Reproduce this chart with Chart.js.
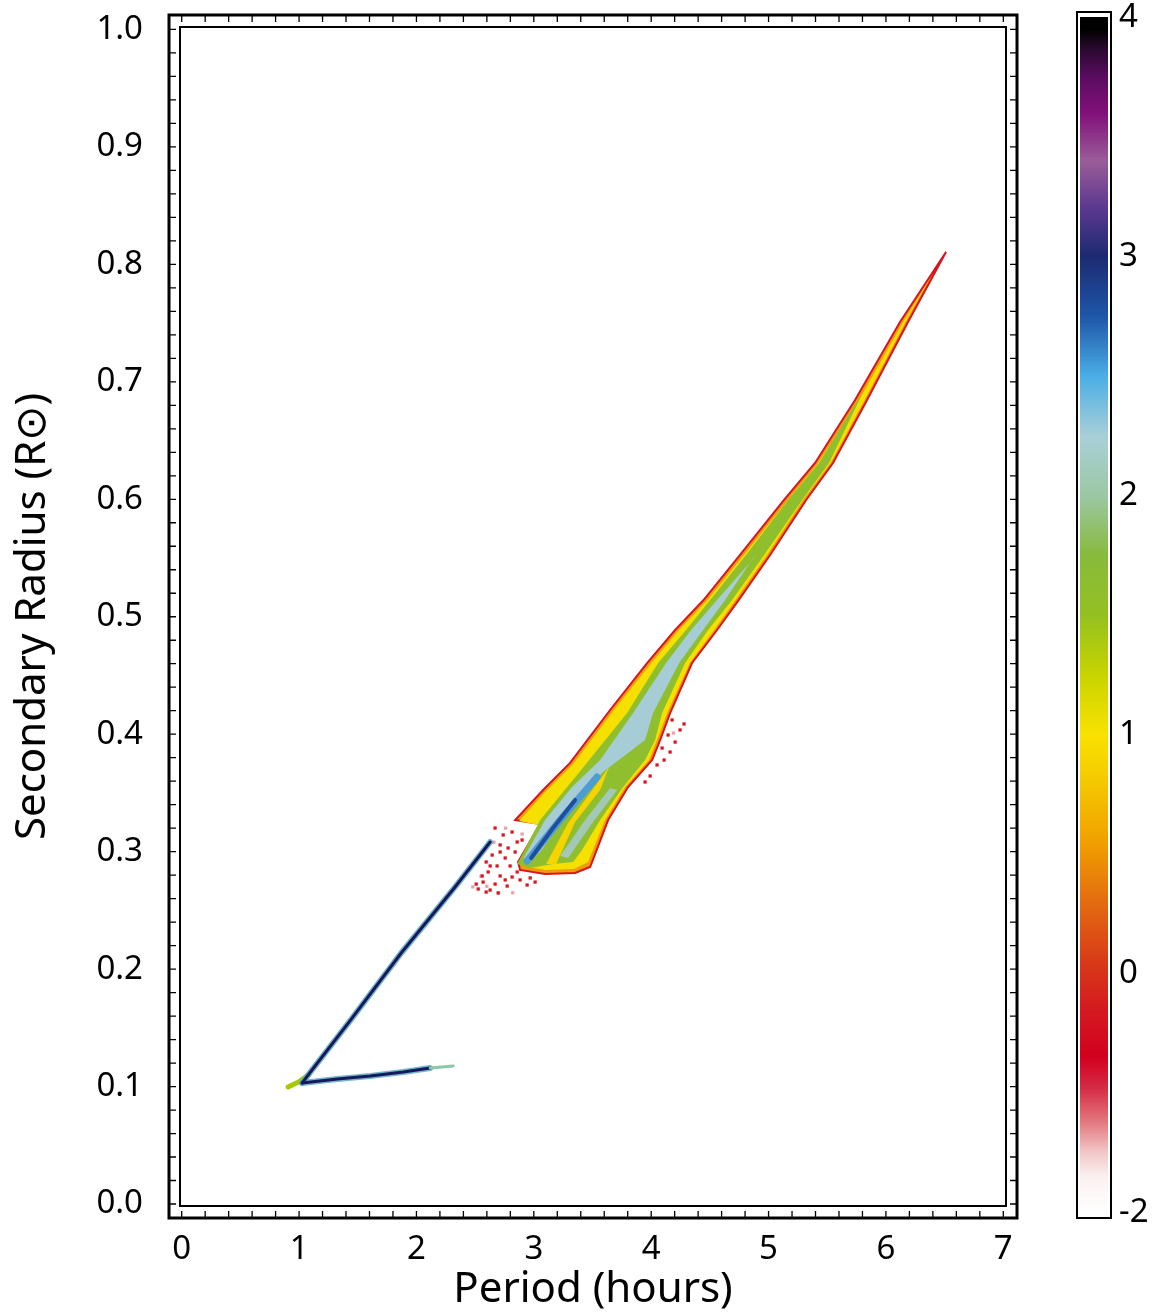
<!DOCTYPE html>
<html>
<head>
<meta charset="utf-8">
<script src="https://cdn.jsdelivr.net/npm/chart.js@4.4.1/dist/chart.umd.min.js"></script>
<style>
  body { margin: 0; background: #fff; }
  #wrap { position: relative; width: 1154px; height: 1315px; }
  #mainChart { position: absolute; left: 0; top: 0; }
  #barChart { position: absolute; left: 1040px; top: 0; }
</style>
</head>
<body>
<div id="wrap">
  <canvas id="mainChart" width="1154" height="1315"></canvas>
  <canvas id="barChart" width="114" height="1315"></canvas>
</div>
<script>
// axis ticks
const periodTicks = [0, 1, 2, 3, 4, 5, 6, 7];
const radiusTicks = [0, 0.1, 0.2, 0.3, 0.4, 0.5, 0.6, 0.7, 0.8, 0.9, 1.0];
const colourLevels = ['-2', '0', '1', '2', '3', '4'];

// density contours, [period (h), radius (Rsun)]
const envelope = [[6.512,0.8105],[6.188,0.7509],[5.839,0.6845],[5.549,0.6309],[5.320,0.5994],[5.013,0.5526],[4.745,0.5142],[4.561,0.4887],[4.348,0.4606],[4.161,0.4180],[4.076,0.3950],[4.008,0.3780],[3.803,0.3550],[3.633,0.3269],[3.480,0.2869],[3.352,0.2818],[3.096,0.2810],[2.883,0.2844],[2.866,0.2912],[3.054,0.3235],[2.841,0.3269],[3.079,0.3525],[3.309,0.3755],[3.650,0.4206],[3.965,0.4606],[4.204,0.4887],[4.446,0.5142],[4.757,0.5526],[5.132,0.5994],[5.396,0.6309],[5.737,0.6845],[6.120,0.7509],[6.512,0.8105]];
const yellowBand = [[6.376,0.7884],[6.167,0.7509],[5.818,0.6845],[5.528,0.6309],[5.294,0.5994],[4.987,0.5526],[4.719,0.5142],[4.536,0.4887],[4.329,0.4606],[4.136,0.4180],[4.050,0.3950],[3.982,0.3780],[3.778,0.3550],[3.607,0.3269],[3.463,0.2912],[3.343,0.2852],[3.096,0.2844],[2.909,0.2878],[2.900,0.2929],[3.079,0.3218],[2.875,0.3261],[3.105,0.3516],[3.335,0.3746],[3.676,0.4197],[3.995,0.4598],[4.229,0.4878],[4.472,0.5134],[4.783,0.5517],[5.158,0.5985],[5.417,0.6300],[5.766,0.6837],[6.141,0.7501]];
const greenBand = [[5.814,0.6930],[5.515,0.6309],[5.286,0.5994],[4.962,0.5526],[4.689,0.5142],[4.485,0.4887],[4.289,0.4606],[4.093,0.4180],[4.033,0.3950],[3.948,0.3780],[3.761,0.3550],[3.565,0.3269],[3.411,0.3014],[3.335,0.2912],[3.164,0.2895],[2.969,0.2861],[2.858,0.2895],[3.054,0.3269],[3.284,0.3550],[3.403,0.3695],[3.795,0.4180],[4.059,0.4606],[4.297,0.4887],[4.502,0.5142],[4.808,0.5526],[5.167,0.5994],[5.430,0.6309]];
const lobeGap = [[3.105,0.2895],[3.292,0.3244],[3.505,0.3533],[3.641,0.3721],[3.565,0.3525],[3.352,0.3252],[3.190,0.2895]];
const paleCore = [[4.902,0.5551],[4.630,0.5142],[4.442,0.4887],[4.238,0.4606],[4.016,0.4180],[3.948,0.3950],[3.590,0.3678],[3.463,0.3550],[3.250,0.3269],[3.054,0.2997],[2.926,0.2903],[2.917,0.2954],[3.096,0.3269],[3.326,0.3550],[3.565,0.3780],[3.846,0.4180],[4.127,0.4606],[4.340,0.4887],[4.561,0.5142],[4.860,0.5483]];
const lowerCore = [[3.224,0.2963],[3.437,0.3269],[3.650,0.3542],[3.710,0.3525],[3.505,0.3252],[3.292,0.2946]];
const blueRidge = [[2.943,0.2920],[3.224,0.3269],[3.539,0.3635]];
const darkRidge = [[2.977,0.2946],[3.164,0.3201],[3.352,0.3440]];
const redSpeckles = [[2.670,0.3201],[2.739,0.3142],[2.815,0.3167],[2.713,0.3057],[2.781,0.3031],[2.858,0.3082],[2.645,0.2971],[2.756,0.2946],[2.687,0.2878],[2.798,0.2878],[2.611,0.2827],[2.713,0.2793],[2.815,0.2784],[2.568,0.2741],[2.670,0.2724],[2.773,0.2707],[2.526,0.2682],[2.628,0.2673],[2.883,0.2759],[2.943,0.2716],[3.011,0.2741],[2.841,0.2997],[2.594,0.2912],[2.900,0.3099],[2.943,0.3014],[2.713,0.2997],[2.628,0.2878],[2.560,0.2793],[2.756,0.2759],[2.858,0.2827],[2.969,0.2776],[2.509,0.2724],[2.594,0.2656],[2.696,0.2648],[4.144,0.3993],[4.204,0.3933],[4.093,0.3882],[4.161,0.3848],[4.050,0.3738],[3.991,0.3644],[4.110,0.3780],[4.246,0.4036],[4.178,0.4121],[4.280,0.4087],[3.948,0.3593]];
const pinkSpeckles = [[2.55,0.2790],[2.60,0.2705],[2.70,0.2650],[2.90,0.3150],[2.76,0.3200],[2.66,0.3080],[4.19,0.4010],[2.48,0.2700],[2.82,0.2650]];

// period-bouncer branch
const upperBranch = [[2.628,0.3082],[2.329,0.2699],[1.870,0.2137],[1.440,0.1567],[1.110,0.1141],[1.026,0.1030]];
const lowerBranch = [[1.026,0.1030],[1.325,0.1064],[1.606,0.1090],[1.887,0.1124],[2.117,0.1158]];
const branchTail = [[2.117,0.1158],[2.313,0.1175]];
const branchTip = [[0.907,0.0996],[1.000,0.1040],[1.080,0.1100]];

// colour bar
const stopLevels = [-2, -1.7, -1.5, -1.25, -0.95, -0.7, -0.3, 0.05, 0.3, 0.55, 0.8, 1.0, 1.25, 1.5, 1.75, 2.0, 2.25, 2.5, 2.75, 3.0, 3.2, 3.4, 3.6, 3.75, 3.88, 3.95, 4.0];
const stopColours = ['#ffffff','#fbf0f0','#f2c8c8','#e27a80','#d42a45','#d2001e','#d41a20','#d83a18','#e46c10','#f0a000','#f5c800','#f8e200','#c8d400','#94c020','#88ba3c','#9cc8a4','#a8cfd8','#4aaee6','#1e56a8','#1c2a72','#5a3890','#9a5c98','#82107a','#5a0c60','#240828','#000000','#000000'];

Chart.defaults.font.family = "'Noto Sans', 'DejaVu Sans', sans-serif";
Chart.defaults.color = '#000';

const toXY = pts => pts.map(([x, y]) => ({ x: x, y: y }));

function area(pts, colour, order, edge) {
  return {
    data: toXY(pts), showLine: true, fill: 'shape', tension: 0,
    backgroundColor: colour, borderColor: edge || colour,
    borderWidth: edge ? 2 : 0, pointRadius: 0, order: order
  };
}
function line(pts, colour, width, order) {
  return {
    data: toXY(pts), showLine: true, fill: false, tension: 0,
    borderColor: colour, borderWidth: width, borderCapStyle: 'round',
    borderJoinStyle: 'round', pointRadius: 0, order: order
  };
}
function dots(pts, colour, order) {
  return {
    data: toXY(pts), showLine: false, pointStyle: 'rect', pointRadius: 2.3,
    backgroundColor: colour, borderWidth: 0, order: order
  };
}

// stop tick labels from pushing the plot area around
function noLabelPadding(s) {
  s.paddingTop = 0; s.paddingBottom = 0; s.paddingLeft = 0; s.paddingRight = 0;
}

// double frame with inward ticks in the gap
const framePlugin = {
  id: 'frame',
  afterDraw(chart) {
    const { ctx, chartArea: a, scales: { x, y } } = chart;
    const L = a.left - 11, R = a.right + 11, T = a.top - 12, B = a.bottom + 12;
    ctx.save();
    ctx.strokeStyle = '#000';
    ctx.lineWidth = 2;
    ctx.strokeRect(a.left, a.top, a.right - a.left, a.bottom - a.top);
    ctx.lineWidth = 3;
    ctx.strokeRect(L, T, R - L, B - T);
    ctx.lineWidth = 1.3;
    ctx.beginPath();
    for (let i = 0; i <= 35; i++) {
      const px = x.getPixelForValue(i * 0.2);
      ctx.moveTo(px, B); ctx.lineTo(px, B - 7);
      ctx.moveTo(px, T); ctx.lineTo(px, T + 7);
    }
    for (let i = 0; i <= 50; i++) {
      const py = y.getPixelForValue(i * 0.02);
      ctx.moveTo(L, py); ctx.lineTo(L + 7, py);
      ctx.moveTo(R, py); ctx.lineTo(R - 7, py);
    }
    ctx.stroke();
    ctx.restore();
  }
};

new Chart(document.getElementById('mainChart'), {
  type: 'scatter',
  data: {
    datasets: [
      dots(redSpeckles, '#dc1420', 95),
      dots(pinkSpeckles, '#eea0a8', 96),
      area(envelope, '#f09a10', 90, '#d8141e'),
      area(yellowBand, '#f6e000', 80),
      area(greenBand, '#8fbf2e', 70),
      area(lobeGap, '#f6d400', 60),
      area(paleCore, '#a6ccd6', 50),
      area(lowerCore, '#a4c8b8', 45),
      line(blueRidge, '#4d9dd4', 7, 40),
      line(darkRidge, '#1d4f9c', 4, 35),
      line(branchTip, '#a8c800', 5, 30),
      line(upperBranch, 'rgba(90,170,190,0.85)', 6, 25),
      line(lowerBranch, 'rgba(90,170,190,0.85)', 6, 24),
      line(upperBranch, '#18185e', 3, 20),
      line(lowerBranch, '#18185e', 3, 19),
      line(branchTail, '#8cc8a8', 3, 18)
    ]
  },
  options: {
    responsive: false,
    animation: false,
    events: [],
    layout: { padding: { top: 27, right: 148, left: 0, bottom: 0 } },
    plugins: { legend: { display: false }, tooltip: { enabled: false } },
    scales: {
      x: {
        type: 'linear', min: -0.0145, max: 7.023,
        grid: { display: false, drawTicks: false }, border: { display: false },
        afterBuildTicks: s => { s.ticks = periodTicks.map(v => ({ value: v })); },
        afterFit: s => { s.height = 109; noLabelPadding(s); },
        ticks: { font: { size: 33 }, padding: 24, maxRotation: 0, autoSkip: false, callback: v => String(v) },
        title: { display: true, text: 'Period (hours)', font: { size: 42 }, padding: { top: 0, bottom: 0 } }
      },
      y: {
        type: 'linear', min: -0.0017, max: 1.0021,
        grid: { display: false, drawTicks: false }, border: { display: false },
        afterBuildTicks: s => { s.ticks = radiusTicks.map(v => ({ value: v })); },
        afterFit: s => { s.width = 180; noLabelPadding(s); },
        ticks: { font: { size: 33 }, padding: 37, autoSkip: false, callback: v => v.toFixed(1) },
        title: { display: true, text: 'Secondary Radius (R\u2299)', font: { size: 42 }, padding: { top: 8, bottom: 0 } }
      }
    }
  },
  plugins: [framePlugin]
});

// colour bar: tick labels sit evenly spaced, the -2..0 stretch is squeezed
function levelPos(level) {
  return level >= 0 ? level + 1 : (level + 2) / 2;
}

function gradientFill(context) {
  const chart = context.chart;
  if (!chart.chartArea) return '#ffffff';
  const ys = chart.scales.y;
  const lo = levelPos(stopLevels[0]), hi = levelPos(stopLevels[stopLevels.length - 1]);
  const g = chart.ctx.createLinearGradient(0, ys.getPixelForValue(lo), 0, ys.getPixelForValue(hi));
  stopLevels.forEach((lv, i) => g.addColorStop((levelPos(lv) - lo) / (hi - lo), stopColours[i]));
  return g;
}

const barFrame = {
  id: 'barFrame',
  afterDraw(chart) {
    const { ctx, chartArea: a } = chart;
    ctx.save();
    ctx.strokeStyle = '#000';
    ctx.lineWidth = 2;
    ctx.strokeRect(a.left - 3, a.top - 3, a.right - a.left + 6, a.bottom - a.top + 6);
    ctx.restore();
  }
};

new Chart(document.getElementById('barChart'), {
  type: 'bar',
  data: {
    labels: ['level'],
    datasets: [{
      data: [[levelPos(-2), levelPos(4)]],
      backgroundColor: gradientFill,
      borderWidth: 0, barPercentage: 1, categoryPercentage: 1
    }]
  },
  options: {
    responsive: false,
    animation: false,
    events: [],
    layout: { padding: { left: 40, top: 15, bottom: 100, right: 0 } },
    plugins: { legend: { display: false }, tooltip: { enabled: false } },
    scales: {
      x: { display: false },
      y: {
        position: 'right', min: -0.01, max: 5.01,
        grid: { display: false, drawTicks: false }, border: { display: false },
        afterBuildTicks: s => { s.ticks = colourLevels.map((_, i) => ({ value: i })); },
        afterFit: s => { s.width = 46; noLabelPadding(s); },
        ticks: { padding: 11, font: { size: 33 }, autoSkip: false, callback: v => colourLevels[v] }
      }
    }
  },
  plugins: [barFrame]
});
</script>
</body>
</html>
